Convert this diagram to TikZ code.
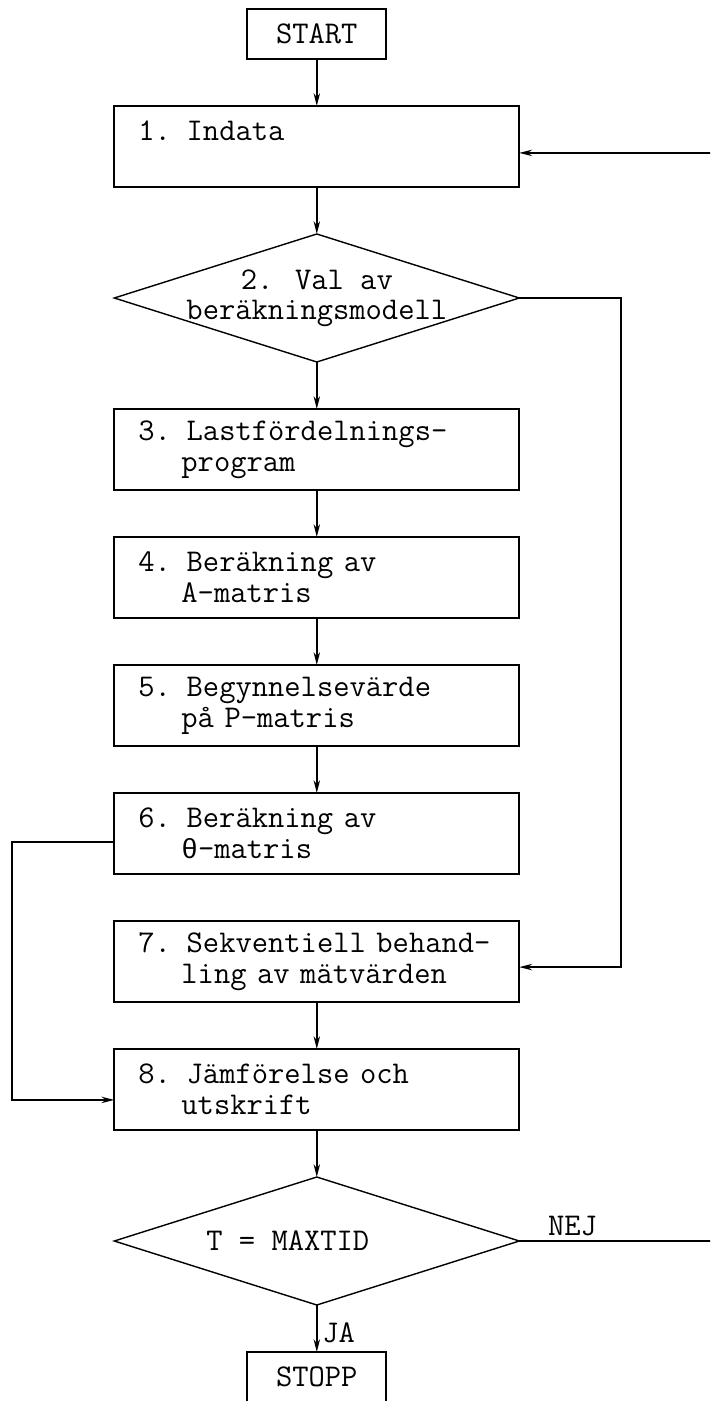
\documentclass[tikz,border=0pt]{standalone}
\usepackage{fontspec}
\usepackage{tikz}
\usetikzlibrary{positioning, shapes.geometric, arrows.meta}
\newfontfamily\grmono[Scale=0.875]{Liberation Mono}
\newcommand{\nrpad}{\hphantom{0.\ }}

\begin{document}
\begin{tikzpicture}
	\tikzset{
	flow/.style={->, line width=1.2pt}, % every connector
	>={Stealth[length=3.2mm,width=1.6mm]}, % narrow filled heads
	node distance=1.175cm, % gap between two boxes of the chain
	every node/.style={font=\ttfamily\fontsize{22.5}{22}\selectfont},
	term/.style={draw, line width=1.3pt, minimum width=3.475cm, minimum height=1.25cm, inner sep=0pt, outer sep=0pt},
	stepbox/.style={draw, line width=1.3pt, minimum width=10.125cm, minimum height=2.025cm, outer sep=0pt,
		text width=10.125cm, inner sep=0pt, align=left, execute at begin node={\leftskip=0.6cm}},
	decision/.style={draw, diamond, line width=1pt, minimum width=10.125cm, minimum height=3.2cm, inner sep=0pt, outer sep=0pt},
	dtext/.style={align=center, inner sep=0pt, font=\ttfamily\fontsize{22.5}{21.5}\selectfont}
	}
	\useasboundingbox (0,0) rectangle (17.75,-35.025);
	\clip (0,0) rectangle (17.75,-35.025);

	\node[term] (start) at (7.92,-0.85) {START};
	\node[stepbox, below=of start] (indata) {1. Indata\\ \mbox{}};
	\node[decision, below=of indata, label={[dtext]center:2. Val av\\beräkningsmodell}] (modell) {};
	\node[stepbox, below=of modell] (lastf) {3. Lastfördelnings-\\\nrpad program};
	\node[stepbox, below=of lastf] (amat) {4. Beräkning av\\\nrpad A-matris};
	\node[stepbox, below=of amat] (pmat) {5. Begynnelsevärde\\\nrpad på P-matris};
	\node[stepbox, below=of pmat] (theta) {6. Beräkning av\\\nrpad{\grmono θ}-matris};
	\node[stepbox, below=of theta] (sekv) {7. Sekventiell behand-\\\nrpad ling av mätvärden};
	\node[stepbox, below=of sekv] (jamf) {8. Jämförelse och\\\nrpad utskrift};
	\node[decision, below=of jamf, label={[dtext, xshift=-0.725cm]center:T = MAXTID}] (maxtid) {};
	\node[term, below=of maxtid] (stopp) {STOPP};

	\draw[flow] (start) -- (indata);
	\draw[flow] (indata) -- (modell);
	\draw[flow] (modell) -- (lastf);
	\draw[flow] (lastf) -- (amat);
	\draw[flow] (amat) -- (pmat);
	\draw[flow] (pmat) -- (theta);
	\draw[flow] (sekv) -- (jamf);
	\draw[flow] (jamf) -- (maxtid);
	\draw[flow] (maxtid) -- node[right, pos=0.6] {JA} (stopp);

	% side branches
	\draw[flow] (modell.east) -- ++(2.55,0) |- ([yshift=-0.14cm]sekv.east);
	\draw[flow] ([yshift=-0.21cm]theta.west) -- ++(-2.55,0) |- ([yshift=-0.26cm]jamf.west);
	\draw[flow] (maxtid.east) -- node[above, pos=0.19] {NEJ} ++(7,0) |- ([yshift=-0.16cm]indata.east);
\end{tikzpicture}
\end{document}
